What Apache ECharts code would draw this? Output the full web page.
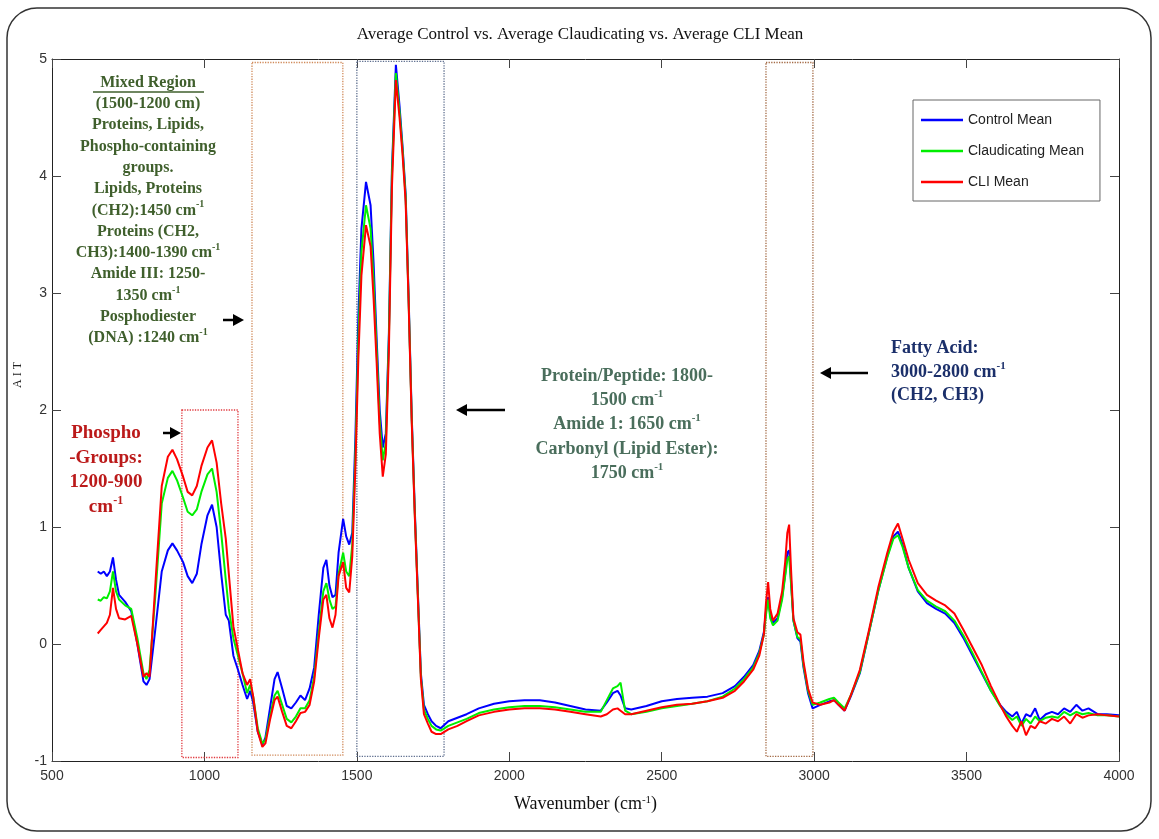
<!DOCTYPE html>
<html>
<head>
<meta charset="utf-8">
<title>Average Control vs. Average Claudicating vs. Average CLI Mean</title>
<script src="https://cdn.jsdelivr.net/npm/echarts@6/dist/echarts.min.js"></script>
<style>
  html, body { margin: 0; padding: 0; background: #fff; }
  #main { width: 1159px; height: 839px; }
</style>
</head>
<body>
<div id="main"></div>
<script>
// wavenumber grid (cm-1)
var wavenumbers = [
  650, 660, 670, 680, 690, 700, 710, 720, 740, 760, 780, 800, 810, 820,
  840, 860, 880, 895, 910, 930, 945, 960, 975, 990, 1010, 1025, 1040, 1055, 1070, 1080,
  1095, 1110, 1125, 1140, 1150, 1160, 1175, 1190, 1200, 1215, 1230, 1240,
  1255, 1270, 1285, 1300, 1315, 1330, 1345, 1360, 1375, 1390, 1400, 1410, 1420, 1430, 1440, 1455, 1465, 1475,
  1485, 1495, 1505, 1515, 1530, 1545, 1555, 1565, 1575, 1585, 1595, 1605, 1615, 1628, 1640,
  1650, 1660, 1670, 1680, 1690, 1700, 1710, 1720, 1733, 1745, 1760, 1775,
  1800, 1830, 1860, 1900, 1950, 2000, 2050, 2100, 2150, 2200, 2250, 2300,
  2320, 2340, 2355, 2365, 2380, 2400, 2450, 2500, 2550, 2600, 2650, 2700, 2740, 2770, 2800, 2820,
  2835, 2842, 2849, 2856, 2865, 2880, 2895, 2905, 2912, 2918, 2924, 2932, 2945, 2955, 2965, 2980, 2995,
  3020, 3050, 3065, 3080, 3100, 3120, 3150, 3180, 3210, 3240, 3260, 3275, 3290, 3310, 3340, 3370, 3400, 3430, 3460,
  3490, 3520, 3550, 3580, 3610, 3630, 3650, 3665, 3680, 3695, 3710, 3725, 3740, 3760, 3780, 3800, 3820, 3840, 3860, 3880, 3900, 3930, 3960, 4000
];

var controlMean = [
  0.62, 0.60, 0.62, 0.58, 0.62, 0.74, 0.55, 0.42, 0.36, 0.28, 0.00, -0.32, -0.35, -0.30,
  0.15, 0.62, 0.80, 0.86, 0.80, 0.70, 0.58, 0.52, 0.60, 0.85, 1.10, 1.19, 1.00, 0.60, 0.25, 0.20,
  -0.10, -0.22, -0.35, -0.47, -0.40, -0.50, -0.75, -0.86, -0.80, -0.55, -0.30, -0.24,
  -0.38, -0.53, -0.55, -0.50, -0.44, -0.48, -0.38, -0.20, 0.25, 0.65, 0.72, 0.50, 0.40, 0.42, 0.78, 1.07, 0.92, 0.85,
  0.95, 1.75, 2.80, 3.55, 3.95, 3.75, 3.25, 2.60, 2.00, 1.68, 1.80, 2.65, 4.05, 4.95, 4.60,
  4.25, 3.85, 2.95, 1.95, 1.15, 0.45, -0.25, -0.52, -0.60, -0.66, -0.70, -0.72,
  -0.66, -0.63, -0.60, -0.55, -0.51, -0.49, -0.48, -0.48, -0.50, -0.53, -0.56, -0.57,
  -0.50, -0.42, -0.40, -0.44, -0.55, -0.56, -0.53, -0.49, -0.47, -0.46, -0.45, -0.42, -0.36, -0.28, -0.18, -0.06,
  0.10, 0.28, 0.40, 0.25, 0.18, 0.22, 0.40, 0.60, 0.78, 0.80, 0.55, 0.20, 0.05, 0.02, -0.20, -0.42, -0.55,
  -0.52, -0.49, -0.48, -0.52, -0.57, -0.45, -0.25, 0.10, 0.45, 0.75, 0.92, 0.96, 0.85, 0.65, 0.45, 0.35, 0.30, 0.26, 0.18,
  0.05, -0.10, -0.25, -0.40, -0.52, -0.58, -0.62, -0.58, -0.68, -0.60, -0.62, -0.55, -0.65, -0.60, -0.58, -0.60, -0.55, -0.58, -0.52, -0.57, -0.55, -0.60, -0.60, -0.61
];

var claudicatingMean = [
  0.38, 0.37, 0.40, 0.39, 0.45, 0.62, 0.45, 0.38, 0.33, 0.30, 0.05, -0.25, -0.30, -0.22,
  0.45, 1.20, 1.42, 1.48, 1.40, 1.25, 1.13, 1.10, 1.15, 1.30, 1.45, 1.50, 1.30, 0.95, 0.55, 0.30,
  0.05, -0.10, -0.25, -0.42, -0.35, -0.45, -0.72, -0.85, -0.82, -0.62, -0.44, -0.40,
  -0.52, -0.64, -0.67, -0.62, -0.55, -0.55, -0.48, -0.28, 0.10, 0.45, 0.52, 0.38, 0.30, 0.32, 0.60, 0.78, 0.62, 0.58,
  0.85, 1.60, 2.60, 3.35, 3.75, 3.55, 3.10, 2.50, 1.90, 1.57, 1.72, 2.60, 4.00, 4.88, 4.55,
  4.22, 3.82, 2.92, 1.92, 1.12, 0.42, -0.28, -0.56, -0.64, -0.70, -0.73, -0.74,
  -0.70, -0.67, -0.64, -0.59, -0.56, -0.54, -0.53, -0.53, -0.54, -0.56, -0.58, -0.58,
  -0.48, -0.38, -0.36, -0.33, -0.57, -0.60, -0.58, -0.55, -0.53, -0.51, -0.49, -0.45, -0.38, -0.30, -0.20, -0.08,
  0.08, 0.25, 0.38, 0.22, 0.16, 0.20, 0.38, 0.58, 0.72, 0.75, 0.52, 0.20, 0.06, 0.04, -0.18, -0.40, -0.52,
  -0.50, -0.47, -0.46, -0.50, -0.55, -0.44, -0.24, 0.10, 0.45, 0.74, 0.90, 0.93, 0.83, 0.65, 0.46, 0.37, 0.32, 0.28, 0.20,
  0.07, -0.08, -0.24, -0.40, -0.53, -0.60, -0.65, -0.62, -0.70, -0.64, -0.68, -0.62, -0.66, -0.63, -0.62, -0.63, -0.58, -0.61, -0.58, -0.60, -0.59, -0.61, -0.61, -0.62
];

var cliMean = [
  0.09, 0.12, 0.15, 0.18, 0.25, 0.48, 0.30, 0.22, 0.21, 0.24, 0.00, -0.28, -0.25, -0.28,
  0.55, 1.35, 1.60, 1.66, 1.58, 1.43, 1.30, 1.27, 1.35, 1.52, 1.68, 1.74, 1.55, 1.20, 0.90, 0.60,
  0.15, -0.05, -0.25, -0.35, -0.30, -0.45, -0.75, -0.88, -0.85, -0.65, -0.48, -0.45,
  -0.58, -0.70, -0.72, -0.66, -0.59, -0.58, -0.52, -0.32, 0.05, 0.38, 0.42, 0.22, 0.14, 0.25, 0.58, 0.70, 0.48, 0.44,
  0.75, 1.50, 2.45, 3.15, 3.58, 3.40, 2.95, 2.40, 1.80, 1.43, 1.62, 2.50, 3.90, 4.82, 4.50,
  4.18, 3.78, 2.90, 1.90, 1.10, 0.40, -0.30, -0.60, -0.68, -0.75, -0.77, -0.77,
  -0.73, -0.70, -0.66, -0.61, -0.58, -0.56, -0.55, -0.55, -0.56, -0.58, -0.60, -0.62,
  -0.60, -0.56, -0.55, -0.57, -0.60, -0.60, -0.57, -0.54, -0.52, -0.51, -0.49, -0.46, -0.40, -0.32, -0.22, -0.10,
  0.08, 0.35, 0.53, 0.30, 0.20, 0.26, 0.45, 0.70, 0.95, 1.02, 0.65, 0.22, 0.10, 0.08, -0.15, -0.38, -0.50,
  -0.52, -0.50, -0.48, -0.52, -0.57, -0.44, -0.22, 0.12, 0.48, 0.78, 0.96, 1.03, 0.90, 0.72, 0.52, 0.42, 0.37, 0.33, 0.26,
  0.12, -0.03, -0.18, -0.36, -0.52, -0.62, -0.70, -0.75, -0.66, -0.78, -0.70, -0.72, -0.66, -0.68, -0.64, -0.66, -0.62, -0.68, -0.60, -0.63, -0.61, -0.60, -0.61, -0.62
];

var seriesNames = ["Control Mean", "Claudicating Mean", "CLI Mean"];
var xTicks = [500, 4000, 500];   // min, max, interval
var yTicks = [-1, 5, 1];

// dotted region boxes: [x1, y1, x2, y2, colour]
var regions = [
  [926, 2.0, 1110, -0.97, "#e0393e"],
  [1156, 4.97, 1454, -0.95, "#d08a5a"],
  [1500, 4.98, 1786, -0.96, "#5f6f8f"],
  [2842, 4.97, 2996, -0.96, "#a36a45"]
];

function pairs(ys) {
  return wavenumbers.map(function (x, i) { return [x, ys[i]]; });
}

var serif = "'Liberation Serif', 'Times New Roman', serif";
var narrow = "'Liberation Sans Narrow', 'Liberation Sans', Arial, sans-serif";

function note(x, y, lines, color, size, lh, align) {
  var supStyle = { fontSize: Math.round(size * 0.62), fontFamily: serif, fontWeight: "bold", fill: color, verticalAlign: "top", lineHeight: lh - 6 };
  return {
    type: "text", x: x, y: y, silent: true,
    style: {
      text: lines.join("\n"),
      fontFamily: serif, fontWeight: "bold", fontSize: size, fill: color,
      lineHeight: lh, align: align || "center", verticalAlign: "top",
      rich: { s: supStyle }
    }
  };
}

function arrow(x1, x2, y) {
  // x2 is the tip
  var dir = x2 > x1 ? 1 : -1;
  var back = x2 - dir * 11;
  return {
    type: "group", silent: true,
    children: [
      { type: "line", shape: { x1: x1, y1: y, x2: back, y2: y }, style: { stroke: "#000", lineWidth: 2.5 } },
      { type: "polygon", shape: { points: [[x2, y], [back, y - 6], [back, y + 6]] }, style: { fill: "#000" } }
    ]
  };
}

var chart = echarts.init(document.getElementById("main"));

var axisCommon = {
  type: "value",
  axisLine: { show: true, onZero: false, lineStyle: { color: "#222", width: 1 } },
  axisTick: { show: true, inside: true, length: 9, lineStyle: { color: "#444" } },
  splitLine: { show: false }
};
var plain = function (v) { return String(v); };

var option = {
  backgroundColor: "#fff",
  animation: false,
  title: {
    text: "Average Control vs. Average Claudicating vs. Average CLI Mean",
    left: 575, top: 21, textAlign: "center",
    textStyle: { fontFamily: serif, fontWeight: "normal", fontSize: 17, color: "#111" }
  },
  legend: {
    data: seriesNames,
    orient: "vertical",
    left: 913, top: 100,
    padding: [11, 16, 10, 8],
    itemGap: 13,
    icon: "rect",
    itemWidth: 42, itemHeight: 2.5,
    backgroundColor: "#fff",
    borderColor: "#666", borderWidth: 1,
    textStyle: { fontFamily: narrow, fontSize: 14, color: "#222", lineHeight: 18 }
  },
  grid: { left: 52, right: 40, top: 59, bottom: 78, containLabel: false },
  xAxis: [
    Object.assign({}, axisCommon, {
      position: "bottom", min: xTicks[0], max: xTicks[1], interval: xTicks[2],
      axisLabel: { color: "#333", fontFamily: narrow, fontSize: 14, margin: 8, formatter: plain },
      name: "Wavenumber (cm{s|-1})",
      nameLocation: "middle", nameGap: 34,
      nameTextStyle: { fontFamily: serif, fontSize: 18, color: "#111", rich: { s: { fontFamily: serif, fontSize: 11, verticalAlign: "top", lineHeight: 14 } } }
    }),
    Object.assign({}, axisCommon, {
      position: "top", min: xTicks[0], max: xTicks[1], interval: xTicks[2],
      axisLabel: { show: false }
    })
  ],
  yAxis: [
    Object.assign({}, axisCommon, {
      position: "left", min: yTicks[0], max: yTicks[1], interval: yTicks[2],
      axisLabel: { color: "#333", fontFamily: narrow, fontSize: 14, margin: 5, formatter: plain },
      name: "A I T", nameLocation: "middle", nameGap: 8, nameRotate: 90,
      nameTextStyle: { fontFamily: serif, fontSize: 12, color: "#222", padding: [0, 0, 0, 70] }
    }),
    Object.assign({}, axisCommon, {
      position: "right", min: yTicks[0], max: yTicks[1], interval: yTicks[2],
      axisLabel: { show: false }
    })
  ],
  series: [
    {
      name: seriesNames[0], type: "line", data: pairs(controlMean),
      symbol: "none", color: "#0000ff", lineStyle: { width: 2 }, z: 3,
      markArea: {
        silent: true,
        data: regions.map(function (r) {
          return [
            { xAxis: r[0], yAxis: r[1], itemStyle: { color: "rgba(0,0,0,0)", borderColor: r[4], borderWidth: 1.3, borderType: "dotted" } },
            { xAxis: r[2], yAxis: r[3] }
          ];
        })
      }
    },
    { name: seriesNames[1], type: "line", data: pairs(claudicatingMean), symbol: "none", color: "#00ee00", lineStyle: { width: 2 }, z: 4 },
    { name: seriesNames[2], type: "line", data: pairs(cliMean), symbol: "none", color: "#ff0000", lineStyle: { width: 2 }, z: 5 }
  ],
  graphic: [
    // rounded frame round the whole figure
    { type: "rect", silent: true, z: -10, shape: { x: 7, y: 8, width: 1144, height: 823, r: 30 }, style: { fill: "none", stroke: "#333", lineWidth: 1.5 } },

    note(148, 72, [
      "Mixed Region", "(1500-1200 cm)", "Proteins, Lipids,", "Phospho-containing", "groups.",
      "Lipids, Proteins", "(CH2):1450 cm{s|-1}", "Proteins (CH2,", "CH3):1400-1390 cm{s|-1}",
      "Amide III: 1250-", "1350 cm{s|-1}", "Posphodiester", "(DNA) :1240 cm{s|-1}"
    ], "#3f5f2c", 16, 21.3),
    { type: "line", silent: true, shape: { x1: 93, y1: 92, x2: 204, y2: 92 }, style: { stroke: "#3f5f2c", lineWidth: 1.5 } },

    note(106, 421, ["Phospho", "-Groups:", "1200-900", "cm{s|-1}"], "#bb1a1a", 19, 24.5),
    note(627, 364, ["Protein/Peptide: 1800-", "1500 cm{s|-1}", "Amide 1: 1650 cm{s|-1}", "Carbonyl (Lipid Ester):", "1750 cm{s|-1}"], "#4a6e5c", 18, 24.3),
    note(891, 337, ["Fatty Acid:", "3000-2800 cm{s|-1}", "(CH2, CH3)"], "#1b2f6a", 18, 23.5, "left"),

    arrow(223, 244, 320),
    arrow(163, 181, 433),
    arrow(505, 456, 410),
    arrow(868, 820, 373)
  ]
};

chart.setOption(option);
</script>
</body>
</html>
